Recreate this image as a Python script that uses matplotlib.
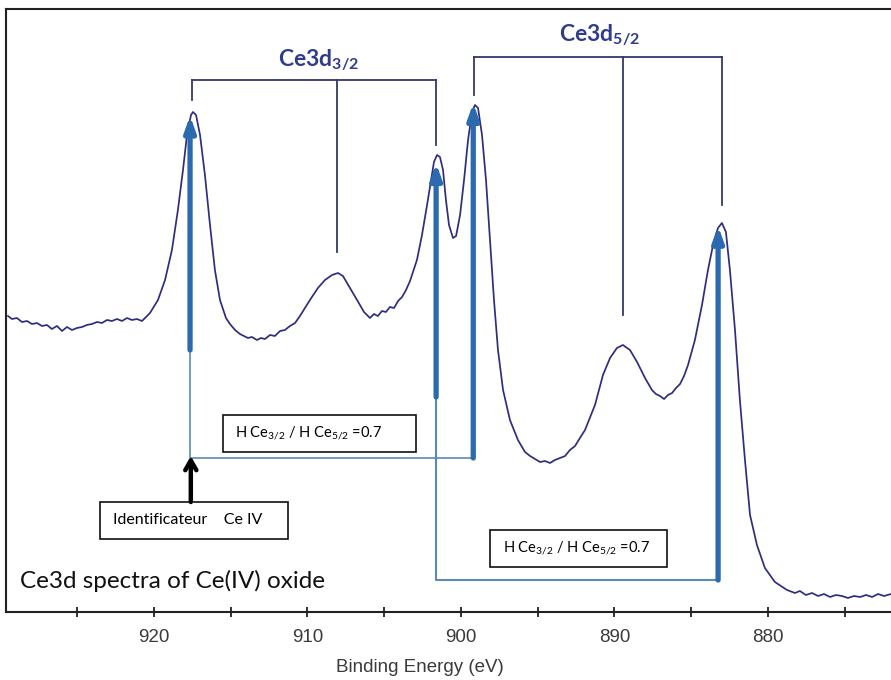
import numpy as np
import matplotlib
matplotlib.use("Agg")
import matplotlib.pyplot as plt
from matplotlib.patches import Rectangle

# ---------------- data ----------------
energy = [929.51, 929.25, 928.93, 928.60, 928.27, 927.95, 927.62, 927.30, 926.97, 926.65,
          926.32, 925.99, 925.67, 925.34, 925.02, 924.69, 924.37, 924.04, 923.71, 923.39,
          923.06, 922.74, 922.41, 922.08, 921.76, 921.43, 921.11, 920.78, 920.46, 920.26,
          919.74, 919.28, 918.83, 918.44, 918.11, 917.85, 917.59, 917.46, 917.26, 917.00,
          916.68, 916.35, 916.03, 915.70,
          915.31, 915.05, 914.72, 914.40, 914.14, 913.88, 913.62, 913.29, 913.03, 912.77,
          912.44, 912.12, 911.79, 911.47, 911.14, 910.81, 910.49,
          909.84, 909.32, 908.86, 908.40, 908.01, 907.69, 907.23, 906.77, 906.32,
          905.93, 905.67, 905.41, 905.15, 904.89, 904.63, 904.36, 904.10, 903.84, 903.58,
          903.32, 903.19, 902.87, 902.54, 902.21,
          901.95, 901.76, 901.56, 901.37, 901.17, 900.98, 900.78, 900.52, 900.32, 900.06,
          899.80, 899.54, 899.28, 899.09, 898.89, 898.63, 898.37, 898.11, 897.85, 897.59,
          897.26, 896.81, 896.29,
          895.83, 895.50, 895.18, 894.85, 894.53, 894.20, 893.88, 893.55, 893.22, 892.90,
          892.57, 892.25, 891.92, 891.27, 890.75, 890.29, 889.84, 889.45, 888.99, 888.53,
          888.01, 887.56, 887.30, 887.04, 886.77, 886.51, 886.25, 885.99, 885.73, 885.47,
          885.21, 884.76, 884.30, 883.91, 883.58, 883.26,
          883.00, 882.74, 882.48, 882.15, 881.83, 881.50, 881.17, 880.72, 880.20, 879.55,
          878.76, 878.24, 877.92, 877.53, 877.13, 876.74, 876.35, 875.96, 875.57, 875.18,
          874.79, 874.40, 874.00, 873.61, 873.22, 872.83, 872.44, 871.98]
intensity = [296, 293, 294, 290, 291, 288, 289, 286, 287, 283,
             286, 281, 285, 282, 284, 285, 287, 288, 290, 289,
             292, 291, 293, 291, 294, 292, 293, 291, 296, 299,
             312, 332, 362, 402, 442, 477, 497, 500, 497, 477,
             437, 387, 342, 312,
             294, 288, 282, 278, 276, 274, 275, 272, 274, 273,
             277, 276, 281, 282, 286, 289, 296,
             312, 324, 332, 337, 339, 336, 324, 312, 300,
             294, 298, 296, 301, 300, 305, 304, 311, 315, 322,
             331, 337, 352, 377, 407,
             432, 450, 457, 455, 442, 412, 387, 374, 376, 397,
             432, 472, 500, 507, 504, 477, 432, 372, 312, 262,
             222, 192, 172,
             160, 156, 153, 150, 151, 149, 152, 154, 156, 162,
             166, 174, 182, 207, 237, 254, 264, 267, 262, 250,
             234, 222, 218, 216, 213, 217, 219, 224, 228, 236,
             247, 272, 307, 342, 367, 384,
             389, 380, 342, 282, 212, 152, 97, 67, 44, 30,
             22, 19, 21, 17, 19, 16, 18, 15, 17, 16,
             14, 16, 15, 17, 15, 18, 16, 18]

# peak energies: 3d3/2 main, 3d3/2 satellite, 3d3/2 second, 3d5/2 main, 3d5/2 satellite, 3d5/2 second
peak_energy = [917.55, 908.05, 901.6, 899.15, 889.45, 883.0]
arrow_energy = [917.65, 901.62, 899.2, 883.25]

xticks_major = [920, 910, 900, 890, 880]
xticks_minor = [925, 915, 905, 895, 885, 875]
xlabel = "Binding Energy (eV)"
title_text = "Ce3d spectra of Ce(IV) oxide"
label_32 = r"Ce3d$_{\mathbf{3/2}}$"
label_52 = r"Ce3d$_{\mathbf{5/2}}$"
ratio_text = r"H Ce$_{3/2}$ / H Ce$_{5/2}$ =0.7"
ident_text = "Identificateur    Ce IV"

# ---------------- style ----------------
plt.rcParams["mathtext.fontset"] = "custom"
plt.rcParams["mathtext.rm"] = "Lato"
plt.rcParams["mathtext.it"] = "Lato:italic"
plt.rcParams["mathtext.bf"] = "Lato:bold"

LINE = "#2E2D7F"
BRACKET = "#33386B"
THICK = "#2B6AAE"
THIN = "#5A8AB5"
NAVY = "#2F3C8C"

W, H = 891, 680
fig = plt.figure(figsize=(W / 100, H / 100), dpi=100)
ax_left, ax_right, ax_bottom, ax_top = 6, 900, 612, 9
ax = fig.add_axes([ax_left / W, 1 - ax_bottom / H, (ax_right - ax_left) / W, (ax_bottom - ax_top) / H])
ax.set_xlim(929.64, 871.40)
ax.set_ylim(0, 603)

ax.plot(energy, intensity, color=LINE, lw=1.25, zorder=3)

for s in ["left", "top", "bottom"]:
    ax.spines[s].set_linewidth(1.5)
    ax.spines[s].set_color("#222222")
ax.spines["right"].set_visible(False)
ax.set_yticks([])
ax.set_xticks(xticks_major)
ax.set_xticks(xticks_minor, minor=True)
ax.tick_params(axis="x", which="both", direction="inout", length=7, width=1.3, color="#222222")
ax.tick_params(axis="x", which="major", pad=9, labelsize=13.5, labelcolor="#3A3A3A")
for lab in ax.get_xticklabels():
    lab.set_family("Liberation Sans")

fig.text(420 / W, 1 - 668 / H, xlabel, ha="center", va="center", fontsize=13.5,
         color="#3A3A3A", family="Liberation Sans")

# ---------------- brackets ----------------
spec_E = np.array(energy)[::-1]
spec_I = np.array(intensity)[::-1]

def bracket(es, top, ends):
    ax.plot([es[0], es[2]], [top, top], color=BRACKET, lw=1.3, zorder=2)
    for e, b in zip(es, ends):
        ax.plot([e, e], [top, b], color=BRACKET, lw=1.3, zorder=2)

bracket(peak_energy[0:3], 532, [512, 360, 467])
bracket(peak_energy[3:6], 555, [517, 297, 407])
ax.text(909.3, 552, label_32, ha="center", va="center",
        fontsize=16.5, color=NAVY, family="Lato", weight="bold")
ax.text(890.95, 577, label_52, ha="center", va="center",
        fontsize=16.5, color=NAVY, family="Lato", weight="bold")

# ---------------- blue arrows and connectors ----------------
tips = np.interp(arrow_energy[::-1], spec_E, spec_I)[::-1]
bases = [262, 215, 154, 32]
tip_off = [4, -6, 6, 2]
for e, t, b, o in zip(arrow_energy, tips, bases, tip_off):
    ax.annotate("", xy=(e, t + o), xytext=(e, b),
                arrowprops=dict(arrowstyle="-|>,head_length=0.9,head_width=0.32",
                                lw=3.8, color=THICK, shrinkA=0, shrinkB=0,
                                mutation_scale=10), zorder=4)

ax.plot([arrow_energy[0], arrow_energy[0], arrow_energy[2]], [262, 154, 154], color=THIN, lw=1.2, zorder=2)
ax.plot([arrow_energy[1], arrow_energy[1], arrow_energy[3]], [215, 32, 32], color=THIN, lw=1.5, zorder=2)

# ---------------- text boxes ----------------
def box(e0, e1, i0, i1):
    ax.add_patch(Rectangle((e0, i0), e1 - e0, i1 - i0, facecolor="white",
                           edgecolor="#111111", lw=1.2, zorder=5))

box(915.50, 902.93, 160, 197)
ax.text(914.72, 178.5, ratio_text, ha="left", va="center", fontsize=10.5, family="Lato", zorder=6)
box(898.11, 886.58, 45, 82)
ax.text(897.26, 63.5, ratio_text, ha="left", va="center", fontsize=10.5, family="Lato", zorder=6)
box(923.52, 911.27, 73, 110)
ax.text(922.67, 92, ident_text, ha="left", va="center", fontsize=11.5, family="Lato", zorder=6)

ax.annotate("", xy=(917.6, 156), xytext=(917.6, 110),
            arrowprops=dict(arrowstyle="->,head_length=0.7,head_width=0.4", lw=3.2,
                            color="black", shrinkA=0, shrinkB=0, mutation_scale=10), zorder=6)

ax.text(928.73, 31, title_text, ha="left", va="center", fontsize=17.5, family="Lato", color="#111111")

fig.savefig("out.png", dpi=100)
